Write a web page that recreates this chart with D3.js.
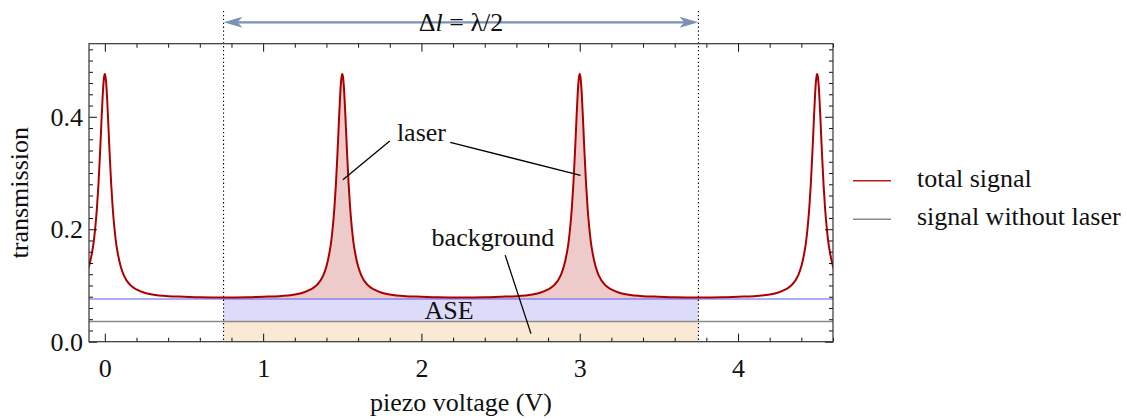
<!DOCTYPE html>
<html>
<head>
<meta charset="utf-8">
<script src="https://cdn.jsdelivr.net/npm/d3@7"></script>
<style>
  body { margin: 0; background: #fff; }
  svg text { font-family: "Liberation Serif", "Times New Roman", serif !important; fill: #111; }
</style>
</head>
<body>
<svg id="chart" width="1127" height="420"></svg>
<script>

// peaks of the total signal (piezo voltage, V)
var peakCenters = [0, 1.5, 3, 4.5];

// one peak: distance from peak centre -> transmission
var profileOffset = [0, 0.005, 0.01, 0.015, 0.02, 0.025, 0.03, 0.04, 0.05, 0.06, 0.07, 0.08,
                     0.1, 0.12, 0.16, 0.2, 0.25, 0.3, 0.4, 0.5, 0.6, 0.75];
var profileValue  = [0.476, 0.470, 0.454, 0.429, 0.400, 0.368, 0.337, 0.281, 0.237, 0.204, 0.178, 0.160,
                     0.134, 0.118, 0.101, 0.093, 0.087, 0.084, 0.081, 0.080, 0.079, 0.0785];

var aseLevel = 0.076;          // blue line
var withoutLaserLevel = 0.036; // grey line, "signal without laser"
var spanStart = 0.75, spanEnd = 3.75;

var xTicks = [0, 1, 2, 3, 4];
var yTicks = [0, 0.2, 0.4];
var xDomain = [-0.1, 4.6];
var yDomain = [0, 0.53];

var legendLabels = ['total signal', 'signal without laser'];

var serif = '"Liberation Serif", "Times New Roman", serif';


window.onload = function(){

  var svg = d3.select('#chart');
  var left = 89, right = 833, top = 43.7, bottom = 341.7;

  var x = d3.scaleLinear().domain(xDomain).range([left, right]);
  var y = d3.scaleLinear().domain(yDomain).range([bottom, top]);

  // build the total signal from the peak profile
  var pts = [];
  peakCenters.forEach(function(c){
    profileOffset.forEach(function(o, i){
      pts.push({x: c - o, y: profileValue[i]});
      if (o > 0) pts.push({x: c + o, y: profileValue[i]});
    });
  });
  pts.sort(function(a, b){ return a.x - b.x; });
  pts = pts.filter(function(p, i){ return i == 0 || Math.abs(p.x - pts[i-1].x) > 1e-9; });

  svg.append('clipPath').attr('id', 'plotclip')
    .append('rect')
      .attr('x', left).attr('y', top)
      .attr('width', right - left).attr('height', bottom - top);

  var plot = svg.append('g').attr('clip-path', 'url(#plotclip)');

  // filled regions between the dotted lines
  plot.append('rect')
    .attr('x', x(spanStart)).attr('width', x(spanEnd) - x(spanStart))
    .attr('y', y(withoutLaserLevel)).attr('height', y(0) - y(withoutLaserLevel))
    .style('fill', '#f9e9d5');

  plot.append('rect')
    .attr('x', x(spanStart)).attr('width', x(spanEnd) - x(spanStart))
    .attr('y', y(aseLevel)).attr('height', y(withoutLaserLevel) - y(aseLevel))
    .style('fill', '#dcdcfa');

  var inSpan = pts.filter(function(p){ return p.x >= spanStart - 1e-9 && p.x <= spanEnd + 1e-9; });
  plot.append('path')
    .datum(inSpan)
    .attr('d', d3.area()
      .x(function(d){ return x(d.x); })
      .y0(y(aseLevel))
      .y1(function(d){ return y(d.y); })
      .curve(d3.curveMonotoneX))
    .style('fill', '#eecbcb');

  // level lines
  plot.append('line')
    .attr('x1', left).attr('x2', right)
    .attr('y1', y(withoutLaserLevel)).attr('y2', y(withoutLaserLevel))
    .style('stroke', '#8a8a8a').style('stroke-width', 1.5);

  plot.append('line')
    .attr('x1', left).attr('x2', right)
    .attr('y1', y(aseLevel)).attr('y2', y(aseLevel))
    .style('stroke', '#5a5af0').style('stroke-width', 1.1);

  // total signal
  plot.append('path')
    .datum(pts)
    .attr('d', d3.line()
      .x(function(d){ return x(d.x); })
      .y(function(d){ return y(d.y); })
      .curve(d3.curveMonotoneX))
    .style('fill', 'none')
    .style('stroke', '#ac0000')
    .style('stroke-width', 2);

  // dotted markers of the half wavelength span
  [spanStart, spanEnd].forEach(function(v){
    svg.append('line')
      .attr('x1', x(v)).attr('x2', x(v))
      .attr('y1', 11).attr('y2', bottom)
      .style('stroke', '#000').style('stroke-width', 1.1)
      .style('stroke-dasharray', '1.3,2.6');
  });

  // axes, ticks pointing inward on all four sides
  var fmt = d3.format('.1f');
  var minorX = d3.range(-0.0, 4.61, 0.2).filter(function(v){ return Math.abs(v - Math.round(v)) > 1e-6; });
  var minorY = d3.range(0, 0.531, 0.02).filter(function(v){ return Math.abs(v / 0.2 - Math.round(v / 0.2)) > 1e-6; });

  function styleAxis(g){
    g.attr('font-family', serif).attr('font-size', 26);
    g.selectAll('.domain').remove();
    g.selectAll('line').style('stroke', '#111').style('stroke-width', 1);
    g.selectAll('text').style('font-size', '26px').style('font-family', serif);
  }

  svg.append('g').attr('transform', 'translate(0,' + bottom + ')')
    .call(d3.axisBottom(x).tickValues(xTicks).tickSize(-8).tickPadding(17).tickFormat(d3.format('d')))
    .call(styleAxis);
  svg.append('g').attr('transform', 'translate(0,' + bottom + ')')
    .call(d3.axisBottom(x).tickValues(minorX).tickSize(-4).tickFormat(''))
    .call(styleAxis);
  svg.append('g').attr('transform', 'translate(0,' + top + ')')
    .call(d3.axisTop(x).tickValues(xTicks).tickSize(-8).tickFormat(''))
    .call(styleAxis);
  svg.append('g').attr('transform', 'translate(0,' + top + ')')
    .call(d3.axisTop(x).tickValues(minorX).tickSize(-4).tickFormat(''))
    .call(styleAxis);

  svg.append('g').attr('transform', 'translate(' + left + ',0)')
    .call(d3.axisLeft(y).tickValues(yTicks).tickSize(-8).tickPadding(6).tickFormat(fmt))
    .call(styleAxis);
  svg.append('g').attr('transform', 'translate(' + left + ',0)')
    .call(d3.axisLeft(y).tickValues(minorY).tickSize(-4).tickFormat(''))
    .call(styleAxis);
  svg.append('g').attr('transform', 'translate(' + right + ',0)')
    .call(d3.axisRight(y).tickValues(yTicks).tickSize(-8).tickFormat(''))
    .call(styleAxis);
  svg.append('g').attr('transform', 'translate(' + right + ',0)')
    .call(d3.axisRight(y).tickValues(minorY).tickSize(-4).tickFormat(''))
    .call(styleAxis);

  // frame
  svg.append('rect')
    .attr('x', left).attr('y', top)
    .attr('width', right - left).attr('height', bottom - top)
    .style('fill', 'none').style('stroke', '#333').style('stroke-width', 1.2);

  // axis titles
  svg.append('text')
    .attr('x', (left + right) / 2).attr('y', 411)
    .attr('text-anchor', 'middle').style('font-size', '26px').style('font-family', serif)
    .text('piezo voltage (V)');

  svg.append('text')
    .attr('transform', 'translate(28,' + ((top + bottom) / 2) + ') rotate(-90)')
    .attr('text-anchor', 'middle').style('font-size', '26px').style('font-family', serif)
    .text('transmission');

  // double arrow for delta l
  var ay = 22.3, ac = '#7a92b0';
  svg.append('line')
    .attr('x1', x(spanStart) + 8).attr('x2', x(spanEnd) - 8)
    .attr('y1', ay).attr('y2', ay)
    .style('stroke', ac).style('stroke-width', 2.2);
  [[x(spanStart), 1], [x(spanEnd), -1]].forEach(function(a){
    var t = a[0], s = a[1];
    svg.append('path')
      .attr('d', 'M' + t + ',' + ay +
                 'L' + (t + s * 19) + ',' + (ay - 5.5) +
                 'L' + (t + s * 14) + ',' + ay +
                 'L' + (t + s * 19) + ',' + (ay + 5.5) + 'Z')
      .style('fill', ac);
  });
  var dl = svg.append('text')
    .attr('x', x((spanStart + spanEnd) / 2)).attr('y', 31)
    .attr('text-anchor', 'middle').style('font-size', '26px').style('font-family', serif);
  dl.append('tspan').text('\u0394');
  dl.append('tspan').style('font-style', 'italic').text('l');
  dl.append('tspan').text(' = \u03bb/2');

  // annotations
  function leader(x1, y1, x2, y2){
    svg.append('line')
      .attr('x1', x(x1)).attr('y1', y(y1))
      .attr('x2', x(x2)).attr('y2', y(y2))
      .style('stroke', '#000').style('stroke-width', 1.3);
  }
  function label(tx, ty, str){
    svg.append('text')
      .attr('x', x(tx)).attr('y', y(ty))
      .attr('text-anchor', 'middle').style('font-size', '26px').style('font-family', serif)
      .text(str);
  }

  label(2.0, 0.357, 'laser');
  leader(1.80, 0.357, 1.504, 0.288);
  leader(2.182, 0.3545, 3.005, 0.296);

  label(2.452, 0.170, 'background');
  leader(2.529, 0.154, 2.692, 0.0144);

  label(2.175, 0.040, 'ASE');

  // legend
  var legendColors = ['#b02020', '#8a8a8a'];
  var legendY = [180.7, 219.3];
  legendLabels.forEach(function(name, i){
    svg.append('line')
      .attr('x1', 853).attr('x2', 891)
      .attr('y1', legendY[i]).attr('y2', legendY[i])
      .style('stroke', legendColors[i]).style('stroke-width', 1.5);
    svg.append('text')
      .attr('x', 917).attr('y', legendY[i] + 6)
      .style('font-size', '26px').style('font-family', serif)
      .text(name);
  });
}

</script>
</body>
</html>
